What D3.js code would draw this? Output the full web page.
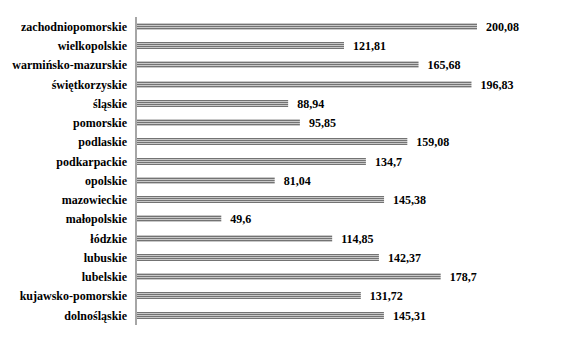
<!DOCTYPE html>
<html>
<head>
<meta charset="utf-8">
<script src="https://cdn.jsdelivr.net/npm/d3@7"></script>
<style>
  body { margin: 0; background: #fff; }
</style>
</head>
<body>
<svg id="chart" width="580" height="340"></svg>
<script>
// voivodeships, top to bottom as drawn
const regions = ["zachodniopomorskie", "wielkopolskie", "warmińsko-mazurskie", "świętkorzyskie",
    "śląskie", "pomorskie", "podlaskie", "podkarpackie", "opolskie", "mazowieckie",
    "małopolskie", "łódzkie", "lubuskie", "lubelskie", "kujawsko-pomorskie", "dolnośląskie"];
const values = [200.08, 121.81, 165.68, 196.83, 88.94, 95.85, 159.08, 134.7,
    81.04, 145.38, 49.6, 114.85, 142.37, 178.7, 131.72, 145.31];
const valueLabels = ["200,08", "121,81", "165,68", "196,83", "88,94", "95,85", "159,08", "134,7",
    "81,04", "145,38", "49,6", "114,85", "142,37", "178,7", "131,72", "145,31"];

const FONT = "'Liberation Serif', 'DejaVu Serif', serif";

const svg = d3.select("#chart");
const plot = { left: 137, top: 17, bottom: 325 };

const x = d3.scaleLinear().domain([0, 200.08]).range([plot.left, 477]);
const y = d3.scaleBand().domain(regions).range([plot.top, plot.bottom]).paddingInner(0.62).paddingOuter(0.31);

// striped fill like the original
const pat = svg.append("defs").append("pattern")
    .attr("id", "stripes")
    .attr("patternUnits", "userSpaceOnUse")
    .attr("width", 4).attr("height", 2);
pat.append("rect").attr("width", 4).attr("height", 2).attr("fill", "#c8c8c8");
pat.append("rect").attr("width", 4).attr("height", 1).attr("fill", "#737373");

svg.selectAll("rect.bar").data(regions)
    .enter().append("rect")
    .attr("class", "bar")
    .attr("x", x(0))
    .attr("y", d => Math.round(y(d)))
    .attr("width", (d, i) => x(values[i]) - x(0))
    .attr("height", Math.round(y.bandwidth()))
    .attr("fill", "url(#stripes)");

// vertical axis line
svg.append("line")
    .attr("x1", plot.left - 1).attr("x2", plot.left - 1)
    .attr("y1", plot.top).attr("y2", plot.bottom)
    .attr("stroke", "#a6a6a6").attr("stroke-width", 2);

// category labels
svg.selectAll("text.cat").data(regions)
    .enter().append("text")
    .attr("class", "cat")
    .attr("x", 127)
    .attr("y", d => y(d) + y.bandwidth() / 2)
    .attr("dy", "0.35em")
    .attr("text-anchor", "end")
    .style("font-family", FONT)
    .style("font-weight", "bold")
    .style("font-size", "12px")
    .text(d => d);

// value labels
svg.selectAll("text.val").data(regions)
    .enter().append("text")
    .attr("class", "val")
    .attr("x", (d, i) => x(values[i]) + 9)
    .attr("y", d => y(d) + y.bandwidth() / 2)
    .attr("dy", "0.35em")
    .style("font-family", FONT)
    .style("font-weight", "bold")
    .style("font-size", "12px")
    .text((d, i) => valueLabels[i]);
</script>
</body>
</html>
